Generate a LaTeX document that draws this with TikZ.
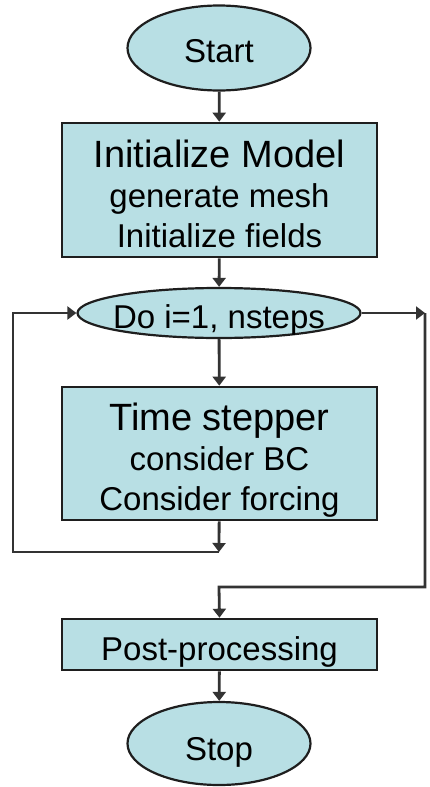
\documentclass[tikz,border=0pt]{standalone}
\usepackage{fontspec}
\setmainfont{Liberation Sans}
\usetikzlibrary{arrows.meta,shapes.geometric}

\definecolor{boxfill}{HTML}{B8DFE4}
\definecolor{edgecol}{HTML}{1E1E1E}
\definecolor{wirecol}{HTML}{333333}

\newcommand{\bigtxt}{\fontsize{38}{40}\selectfont}
\newcommand{\smalltxt}{\fontsize{33}{40}\selectfont}
% invisible struts that fix the vertical placement of three-line labels
\newcommand{\topstrut}{\rule{0pt}{42pt}}
\newcommand{\botstrut}{\rule[-8pt]{0pt}{8pt}}

\tikzset{
  stepbox/.style={draw=edgecol, fill=boxfill, line width=2.6pt,
    minimum width=315pt, inner sep=0pt, align=center, font=\smalltxt},
  term/.style={ellipse, draw=edgecol, fill=boxfill, line width=2.2pt,
    inner xsep=-20pt, inner ysep=-10pt, font=\smalltxt, text depth=0pt},
  wire/.style={draw=wirecol, line width=2.8pt},
  arr/.style={wire, -{Triangle[length=9pt,width=13pt]}},
}

\begin{document}
\begin{tikzpicture}[x=1pt,y=-1pt]
  \useasboundingbox (0,0) rectangle (429,787);

  % terminal and process nodes
  \node[term, minimum width=183pt, minimum height=85pt, text height=28pt] (start) at (219,48) {Start};
  \node[stepbox, minimum height=134pt] (init) at (219.5,190)
    {\topstrut{\bigtxt Initialize Model}\\generate mesh\\Initialize fields\botstrut};
  \node[term, minimum width=283pt, minimum height=50pt, text height=30pt] (loop) at (219,313) {Do i=1, nsteps};
  \node[stepbox, minimum height=133pt] (stepper) at (219.5,453.5)
    {\topstrut{\bigtxt Time stepper}\\consider BC\\Consider forcing\botstrut};
  \node[stepbox, minimum height=51pt, text height=31pt, text depth=0pt] (post) at (219.5,644.5) {Post-processing};
  \node[term, minimum width=183pt, minimum height=83pt, text height=33pt] (stop) at (219,743.5) {Stop};

  % corner points of the loop wiring
  \coordinate (backjoin) at (219,552);
  \coordinate (backcorner) at (13,552);
  \coordinate (exitcorner) at (425,313);
  \coordinate (exitjoin) at (219,587);

  % straight flow
  \draw[arr] (start) -- (init);
  \draw[arr] (init) -- (loop);
  \draw[arr] (loop) -- (stepper);
  \draw[arr] (post) -- (stop);

  % loop back to the Do node
  \draw[arr] (stepper) -- (backjoin);
  \draw[arr] (backjoin) -- (backcorner) |- (loop.west);

  % loop exit to post-processing
  \draw[arr] (loop.east) -- (exitcorner);
  \draw[arr] (exitcorner) |- (exitjoin) -- (post.north);
\end{tikzpicture}
\end{document}
